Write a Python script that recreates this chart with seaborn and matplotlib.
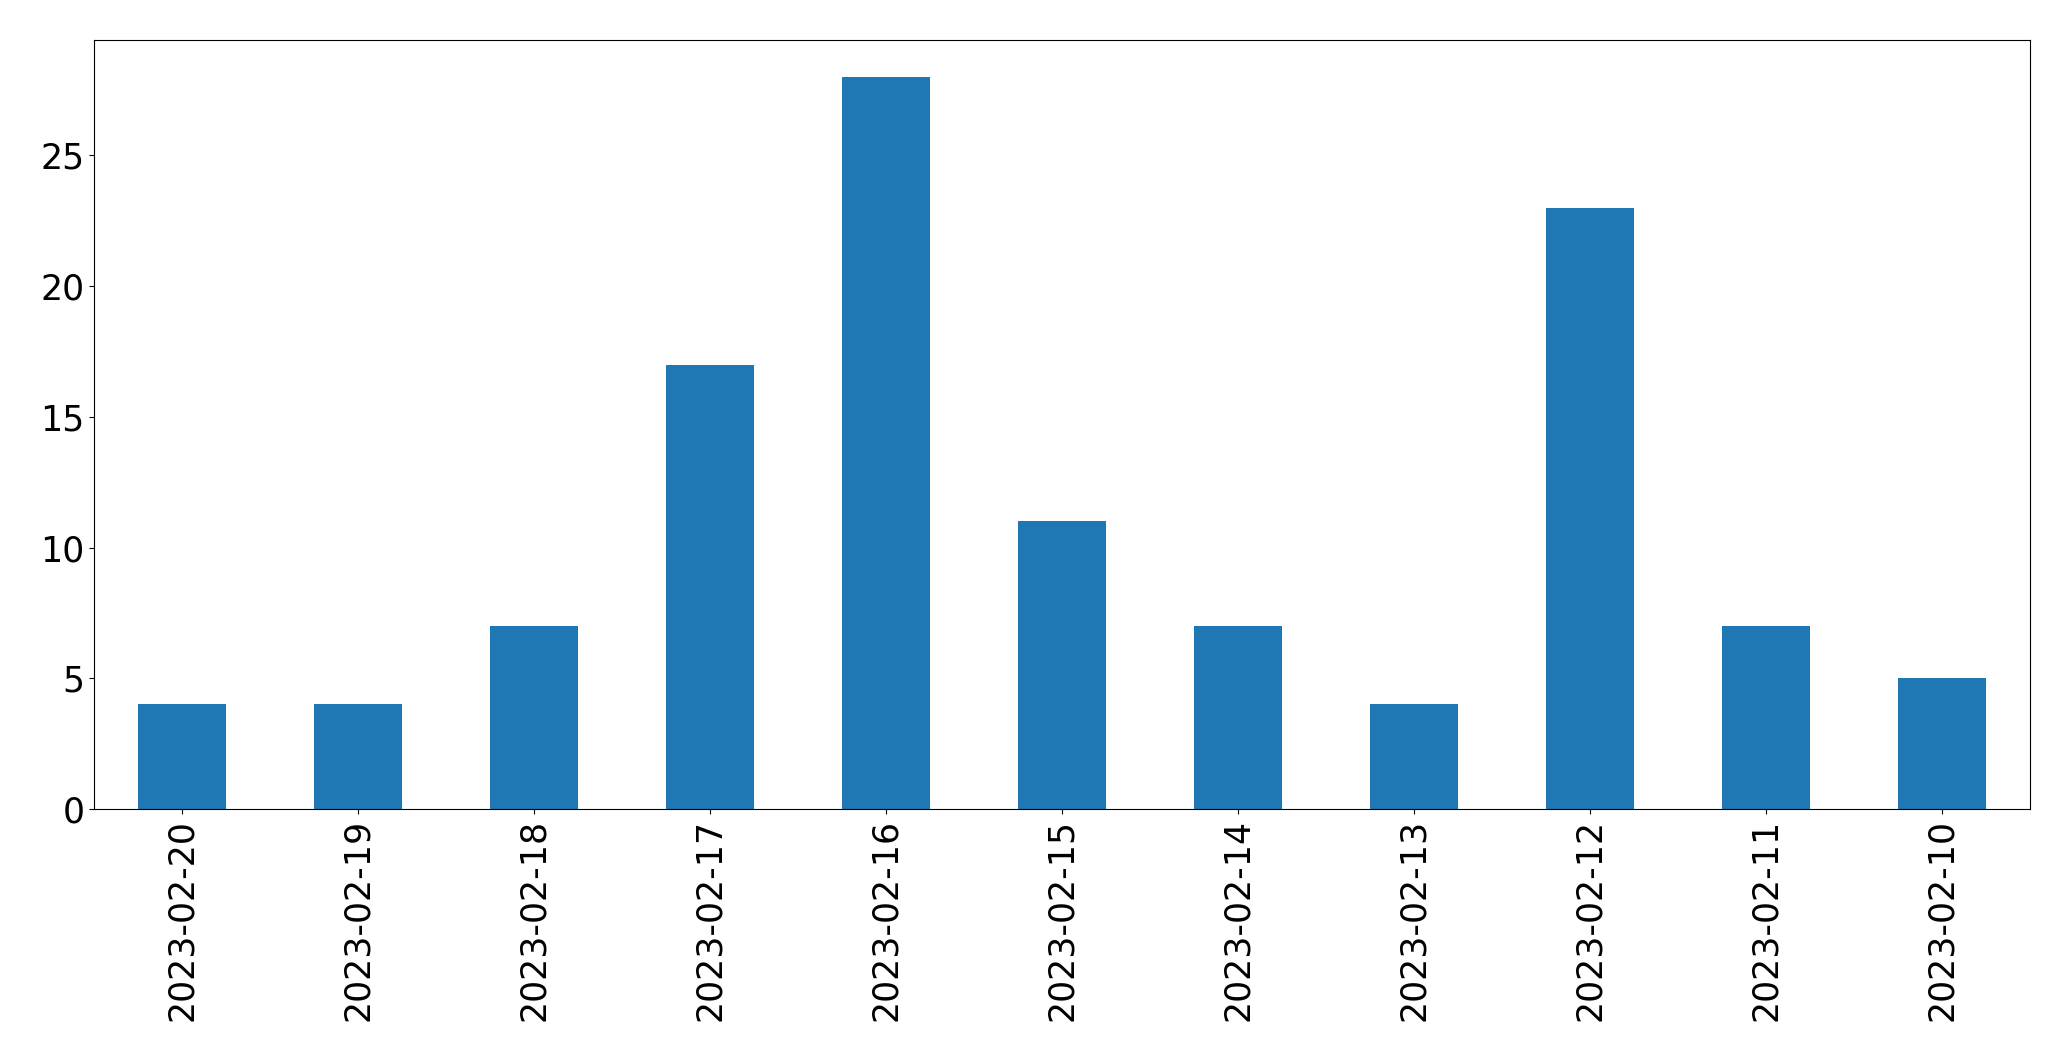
import matplotlib
matplotlib.use("Agg")
import pandas as pd
import seaborn as sns
import matplotlib.pyplot as plt

dates = ["2023-02-20", "2023-02-19", "2023-02-18", "2023-02-17", "2023-02-16",
         "2023-02-15", "2023-02-14", "2023-02-13", "2023-02-12", "2023-02-11",
         "2023-02-10"]
counts = [4, 4, 7, 17, 28, 11, 7, 4, 23, 7, 5]

df = pd.DataFrame({"date": dates, "count": counts})

fig, ax = plt.subplots(figsize=(20.71, 10.61), dpi=100)
sns.barplot(data=df, x="date", y="count", order=dates, color="#1f77b4",
            saturation=1, width=0.5, ax=ax)
ax.set_xlim(-0.5, len(dates) - 0.5)
ax.set_ylim(0, 29.4)
ax.set_xlabel("")
ax.set_ylabel("")
ax.tick_params(axis="both", labelsize=25)
plt.xticks(rotation=90)
fig.subplots_adjust(left=0.0454, right=0.980, top=0.962, bottom=0.2375)
fig.savefig("out.png", dpi=100)
